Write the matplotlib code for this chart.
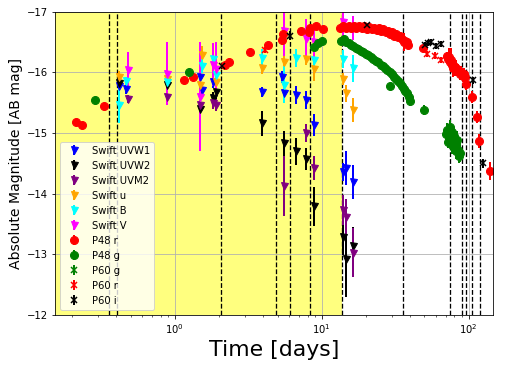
import numpy as np
import matplotlib
matplotlib.use('Agg')
from matplotlib import pyplot as plt

# Swift UVOT (days, AB mag, err)
uvw1_t = [0.418, 0.464, 1.479, 1.526, 1.81, 3.89, 5.40, 5.55, 6.71, 7.78, 8.87, 14.0, 14.7, 16.3]
uvw1_m = [-15.77, -15.72, -15.93, -15.71, -15.85, -15.68, -15.93, -15.66, -15.63, -15.55, -15.13, -14.36, -14.42, -14.20]
uvw1_e = [0.05, 0.07, 0.1, 0.1, 0.1, 0.08, 0.1, 0.12, 0.15, 0.15, 0.18, 0.15, 0.28, 0.28]

uvw2_t = [0.418, 0.886, 1.479, 1.81, 1.92, 3.89, 5.51, 6.71, 7.78, 8.87, 14.0, 14.7, 16.3]
uvw2_m = [-15.83, -15.80, -15.39, -15.58, -15.67, -15.16, -14.83, -14.70, -14.57, -13.79, -13.29, -12.92, -13.13]
uvw2_e = [0.05, 0.05, 0.15, 0.1, 0.1, 0.2, 0.2, 0.22, 0.18, 0.32, 0.3, 0.62, 0.32]

uvm2_t = [0.481, 0.886, 1.479, 1.81, 1.92, 5.51, 7.78, 8.87, 14.0, 14.7, 16.3]
uvm2_m = [-15.56, -15.59, -15.47, -15.49, -15.47, -14.13, -15.00, -14.42, -13.73, -13.61, -13.03]
uvm2_e = [0.07, 0.07, 0.1, 0.1, 0.1, 0.5, 0.15, 0.2, 0.25, 0.3, 0.4]

u_t = [0.418, 0.886, 1.479, 1.526, 1.92, 3.89, 5.51, 7.78, 8.87, 14.0, 14.7, 16.3]
u_m = [-15.92, -15.90, -15.80, -16.29, -15.85, -16.07, -16.17, -16.23, -16.06, -15.89, -15.66, -15.38]
u_e = [0.1, 0.05, 0.1, 0.15, 0.1, 0.1, 0.1, 0.1, 0.2, 0.1, 0.14, 0.2]

b_t = [0.418, 0.464, 0.886, 1.526, 1.81, 1.92, 3.89, 5.51, 6.71, 8.87, 14.0, 16.3]
b_m = [-15.47, -15.86, -15.85, -16.11, -16.22, -15.96, -16.24, -15.80, -16.24, -16.20, -16.22, -16.07]
b_e = [0.3, 0.07, 0.05, 0.12, 0.15, 0.12, 0.15, 0.3, 0.15, 0.12, 0.15, 0.22]

v_t = [0.481, 0.886, 1.479, 1.81, 1.92, 5.51, 7.78, 8.9, 14.0, 16.3]
v_m = [-16.04, -15.98, -15.60, -16.13, -16.05, -16.68, -16.56, -16.50, -16.83, -16.74]
v_e = [0.3, 0.52, 0.9, 0.35, 0.45, 0.4, 0.33, 0.3, 0.4, 0.2]

# P48
p48r_t = [0.214, 0.232, 0.330, 1.157, 1.332, 2.20, 2.33, 3.27, 4.29, 5.35, 5.47, 7.27, 8.16, 8.28, 9.20, 10.2,
	13.3, 14.0, 14.6, 15.2, 15.9, 16.5, 17.2, 18.0, 18.8, 19.5, 20.3, 21.1, 22.0, 22.8, 23.7, 24.5,
	25.4, 26.3, 27.2, 28.1, 29.0, 30.0, 31.0, 32.0, 33.0, 34.0, 35.0, 36.0, 37.0, 38.0, 38.8,
	48.7, 71.5, 72.5, 73.5, 74.5, 75.5, 76.5, 77.5, 78.5, 79.5, 80.5, 82.0, 83.5, 85.0, 87.0, 89.0,
	91.0, 93.0, 95.0, 96.5, 105, 113, 117.5, 139]
p48r_m = [-15.19, -15.14, -15.45, -15.88, -15.93, -16.13, -16.17, -16.33, -16.46, -16.54, -16.63, -16.69, -16.67, -16.73, -16.76, -16.71,
	-16.74, -16.76, -16.73, -16.77, -16.74, -16.76, -16.73, -16.77, -16.74, -16.76, -16.72, -16.75, -16.71, -16.74, -16.70, -16.73,
	-16.69, -16.71, -16.66, -16.69, -16.64, -16.66, -16.61, -16.63, -16.58, -16.60, -16.55, -16.50, -16.52, -16.50, -16.46,
	-16.41, -16.28, -16.22, -16.25, -16.18, -16.20, -16.12, -16.15, -16.08, -16.10, -16.05, -16.08, -16.02, -16.04, -15.98, -16.00,
	-15.95, -15.97, -15.92, -15.81, -15.60, -15.27, -14.87, -14.38]
p48r_e = [0.04, 0.04, 0.05, 0.04, 0.04, 0.04, 0.04, 0.04, 0.04, 0.04, 0.04, 0.04, 0.04, 0.04, 0.04, 0.04,
	0.05, 0.05, 0.05, 0.05, 0.05, 0.05, 0.05, 0.05, 0.05, 0.05, 0.05, 0.05, 0.05, 0.05, 0.05, 0.05,
	0.05, 0.05, 0.05, 0.05, 0.05, 0.05, 0.05, 0.05, 0.05, 0.05, 0.05, 0.15, 0.05, 0.06, 0.06,
	0.05, 0.06, 0.08, 0.15, 0.08, 0.2, 0.08, 0.1, 0.15, 0.08, 0.1, 0.12, 0.08, 0.1, 0.1, 0.1,
	0.1, 0.1, 0.1, 0.1, 0.1, 0.1, 0.12, 0.15]

p48g_t = [0.286, 1.25, 8.8, 9.4, 10.1,
	13.6, 14.1, 14.6, 15.2, 15.8, 16.4, 17.0, 17.7, 18.4, 19.1, 19.9, 20.7, 21.5, 22.4, 23.3, 24.2,
	25.1, 26.1, 27.0, 28.0, 29.0, 29.0, 30.0, 31.0, 32.0, 33.0, 34.0, 35.0, 36.0, 37.0, 38.0, 39.0, 40.0,
	49.4, 70.5, 71.5, 72.5, 73.5, 74.5, 75.0, 76.0, 76.5, 77.5, 78.0, 79.0, 80.0, 81.0, 82.0, 83.0, 84.5, 86.0, 87.5]
p48g_m = [-15.54, -16.01, -16.42, -16.48, -16.52,
	-16.52, -16.55, -16.50, -16.48, -16.46, -16.44, -16.41, -16.39, -16.35, -16.34, -16.30, -16.29, -16.25, -16.23, -16.19, -16.17,
	-16.13, -16.10, -16.07, -16.04, -16.00, -15.78, -15.97, -15.93, -15.89, -15.86, -15.83, -15.77, -15.73, -15.70, -15.66, -15.60, -15.53,
	-15.38, -14.98, -15.05, -14.85, -15.00, -14.92, -15.10, -14.95, -14.80, -15.02, -14.88, -14.75, -14.95, -14.82, -14.70, -14.88, -14.72, -14.62, -14.68]
p48g_e = [0.05, 0.04, 0.04, 0.04, 0.04,
	0.05, 0.05, 0.05, 0.05, 0.05, 0.05, 0.05, 0.05, 0.05, 0.05, 0.05, 0.05, 0.05, 0.05, 0.05, 0.05,
	0.05, 0.05, 0.05, 0.05, 0.05, 0.05, 0.05, 0.05, 0.05, 0.05, 0.05, 0.06, 0.06, 0.06, 0.08, 0.08, 0.08,
	0.08, 0.1, 0.12, 0.1, 0.15, 0.1, 0.12, 0.1, 0.15, 0.1, 0.12, 0.1, 0.15, 0.1, 0.12, 0.15, 0.1, 0.12, 0.15]

# P60
p60g_t = [74.0, 79.0]
p60g_m = [-14.95, -14.85]
p60g_e = [0.1, 0.1]

p60r_t = [4.10, 52.0, 59.0, 65.0, 93.6]
p60r_m = [-16.37, -16.31, -16.28, -16.21, -15.96]
p60r_e = [0.05, 0.05, 0.05, 0.05, 0.06]

p60i_t = [2.08, 6.06, 20.2, 50.2, 53.0, 55.6, 60.1, 65.1, 107, 125]
p60i_m = [-16.10, -16.61, -16.79, -16.46, -16.49, -16.50, -16.44, -16.47, -15.87, -14.50]
p60i_e = [0.05, 0.08, 0.03, 0.05, 0.05, 0.05, 0.05, 0.05, 0.06, 0.08]

# epochs marked with dashed lines
epochs = [0.356, 0.401, 2.06, 4.86, 6.06, 8.37, 13.8, 35.6, 74.3, 90.6, 95.4, 106, 119]
shade_end = 13.8

fig = plt.figure(figsize=(505/72, 371/72), dpi=72)
ax = fig.add_axes([0.109, 0.151, 0.867, 0.817])

ax.axvspan(0.1, shade_end, color='yellow', alpha=0.5, lw=0)
for t in epochs:
	ax.axvline(t, color='k', ls='--', lw=1.3)

swift = [(uvw1_t, uvw1_m, uvw1_e, 'blue', 'Swift UVW1'),
	(uvw2_t, uvw2_m, uvw2_e, 'black', 'Swift UVW2'),
	(uvm2_t, uvm2_m, uvm2_e, 'purple', 'Swift UVM2'),
	(u_t, u_m, u_e, 'orange', 'Swift u'),
	(b_t, b_m, b_e, 'cyan', 'Swift B'),
	(v_t, v_m, v_e, 'magenta', 'Swift V')]
for t, m, e, c, lab in swift:
	ax.errorbar(t, m, yerr=e, fmt='v', color=c, ms=7, elinewidth=2, label=lab)

ax.errorbar(p48r_t, p48r_m, yerr=p48r_e, fmt='o', color='red', ms=8, elinewidth=2, label='P48 r')
ax.errorbar(p48g_t, p48g_m, yerr=p48g_e, fmt='o', color='green', ms=8, elinewidth=2, label='P48 g')
ax.errorbar(p60g_t, p60g_m, yerr=p60g_e, fmt='x', color='green', ms=6, mew=1.5, elinewidth=2, label='P60 g')
ax.errorbar(p60r_t, p60r_m, yerr=p60r_e, fmt='x', color='red', ms=6, mew=1.5, elinewidth=2, label='P60 r')
ax.errorbar(p60i_t, p60i_m, yerr=p60i_e, fmt='x', color='black', ms=6, mew=1.5, elinewidth=2, label='P60 i')

ax.set_xscale('log')
ax.set_xlim(0.153, 146)
ax.set_ylim(-12, -17)
ax.grid(True)
ax.set_xlabel('Time [days]', fontsize=22)
ax.set_ylabel('Absolute Magnitude [AB mag]', fontsize=14)
ax.legend(loc='lower left', fontsize=10)

fig.savefig('out.png', dpi=72)
